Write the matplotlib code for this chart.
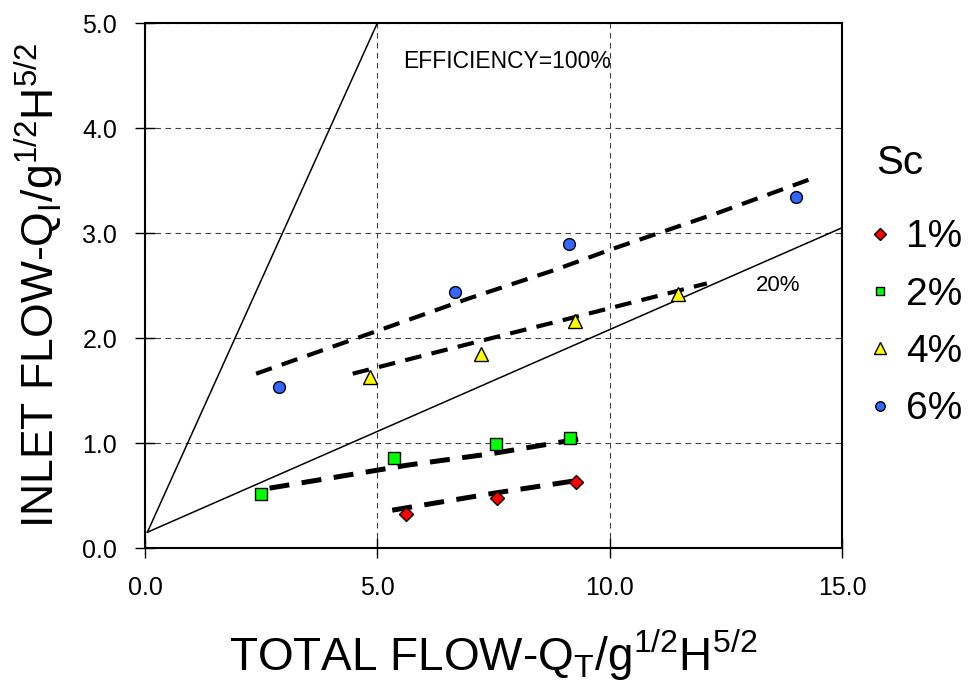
import matplotlib
matplotlib.use("Agg")
import matplotlib.pyplot as plt

plt.rcParams['font.family'] = ['Liberation Sans', 'DejaVu Sans']
plt.rcParams['mathtext.fontset'] = 'custom'
plt.rcParams['mathtext.rm'] = 'Liberation Sans'
plt.rcParams['mathtext.it'] = 'Liberation Sans'

# measured points for each slope Sc
labels = ["1%", "2%", "4%", "6%"]
x_1 = [5.62, 7.57, 9.27]
y_1 = [0.32, 0.48, 0.63]
x_2 = [2.50, 5.36, 7.55, 9.15]
y_2 = [0.51, 0.86, 0.99, 1.05]
x_4 = [4.84, 7.23, 9.25, 11.47]
y_4 = [1.63, 1.85, 2.16, 2.42]
x_6 = [2.88, 6.67, 9.12, 14.01]
y_6 = [1.53, 2.44, 2.90, 3.34]

# trend lines (dashed)
tx_1 = [5.32, 7.48, 9.40]
ty_1 = [0.36, 0.52, 0.65]
tx_2 = [2.68, 5.66, 7.48, 9.50]
ty_2 = [0.57, 0.79, 0.90, 1.05]
tx_4 = [4.47, 7.29, 9.26, 12.09]
ty_4 = [1.66, 1.98, 2.20, 2.52]
tx_6 = [2.39, 4.95, 6.99, 8.83, 10.07, 12.38, 14.30]
ty_6 = [1.66, 2.06, 2.38, 2.65, 2.85, 3.20, 3.51]

# efficiency reference lines
eff100_x = [0.05, 5.0]
eff100_y = [0.15, 5.0]
eff20_x = [0.05, 15.0]
eff20_y = [0.15, 3.05]

fig = plt.figure(figsize=(9.74, 6.81), dpi=100)
ax = fig.add_axes([0.1489, 0.1953, 0.7156, 0.7709])

ax.plot(eff100_x, eff100_y, color='black', lw=1.1)
ax.plot(eff20_x, eff20_y, color='black', lw=1.1)

ax.plot(tx_6, ty_6, color='black', lw=3.0, dashes=(4, 2.5))
ax.plot(tx_4, ty_4, color='black', lw=3.0, dashes=(4, 2.5))
ax.plot(tx_2, ty_2, color='black', lw=3.6, dashes=(4, 2.5))
ax.plot(tx_1, ty_1, color='black', lw=3.6, dashes=(4, 2.5))

ax.plot(x_1, y_1, 'D', ms=7.5, mfc='#ff0000', mec='black', mew=1, label=labels[0])
ax.plot(x_2, y_2, 's', ms=8, mfc='#00ff00', mec='black', mew=1, label=labels[1])
ax.plot(x_4, y_4, '^', ms=10, mfc='#ffff00', mec='black', mew=1, label=labels[2])
ax.plot(x_6, y_6, 'o', ms=8.5, mfc='#3366ff', mec='black', mew=1, label=labels[3])

ax.set_xlim(0, 15)
ax.set_ylim(0, 5)
ax.set_xticks([0, 5, 10, 15])
ax.set_yticks([0, 1, 2, 3, 4, 5])
ax.set_xticklabels(["0.0", "5.0", "10.0", "15.0"])
ax.set_yticklabels(["0.0", "1.0", "2.0", "3.0", "4.0", "5.0"])
ax.tick_params(labelsize=18, direction='inout', length=14, width=1, pad=13)
ax.grid(True, color='#404040', lw=0.8, dashes=(5, 4))
for s in ax.spines.values():
    s.set_linewidth(1.5)

ax.text(7.8, 4.63, "EFFICIENCY=100%", fontsize=16.5, ha='center', va='center')
ax.text(13.62, 2.50, "20%", fontsize=16, ha='center', va='center')

ax.set_xlabel(r"TOTAL FLOW-Q$_\mathrm{T}$/g$^\mathrm{1/2}$H$^\mathrm{5/2}$",
              fontsize=33, labelpad=20)
ax.set_ylabel(r"INLET FLOW-Q$_\mathrm{I}$/g$^\mathrm{1/2}$H$^\mathrm{5/2}$",
              fontsize=32, labelpad=12)

fig.text(0.924, 0.7606, "Sc", fontsize=29, ha='center', va='center')
leg = ax.legend(loc='upper left', bbox_to_anchor=(0.888, 0.678),
                bbox_transform=fig.transFigure, frameon=False, fontsize=28,
                borderaxespad=0, borderpad=0, handletextpad=0.25,
                labelspacing=0.55, handlelength=0.8, markerscale=0.8)

fig.savefig("out.png", dpi=100)
